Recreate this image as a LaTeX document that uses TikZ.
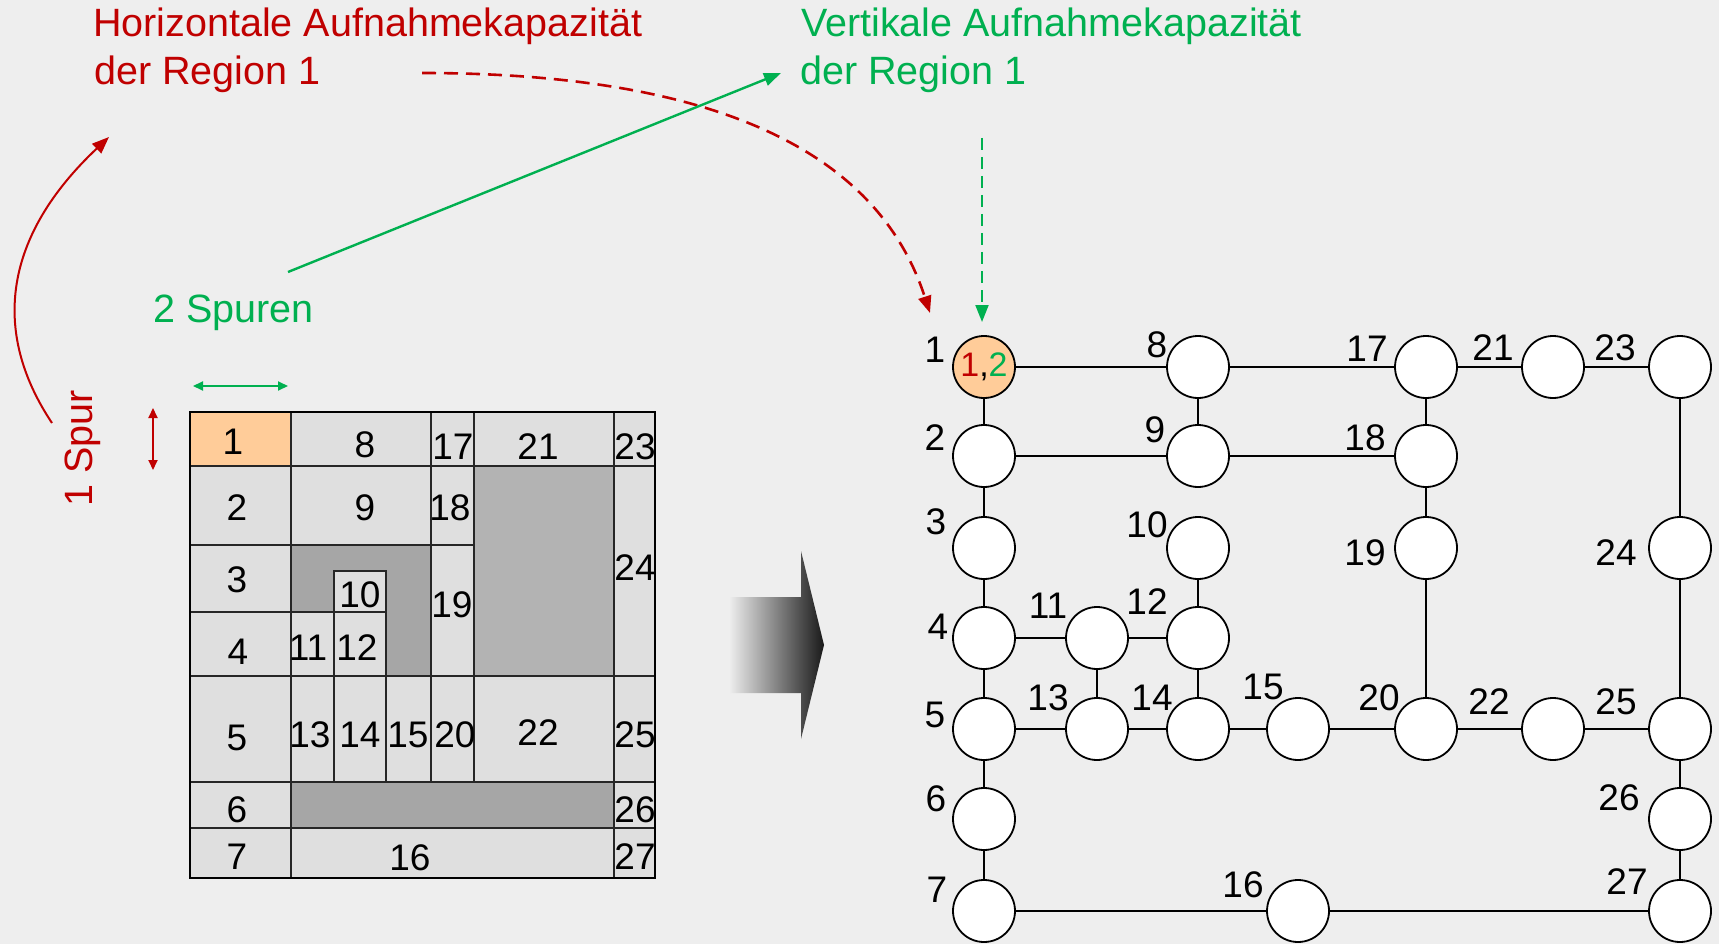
\documentclass[tikz,border=0pt]{standalone}
\usepackage{fontspec}
\setmainfont{Liberation Sans}
\usetikzlibrary{arrows.meta}
\definecolor{bg}{HTML}{EEEEEE}
\definecolor{cellgray}{HTML}{DFDFDF}
\definecolor{darkA}{HTML}{A6A6A6}
\definecolor{darkB}{HTML}{B3B3B3}
\definecolor{orangecell}{HTML}{FFCC99}
\definecolor{myred}{HTML}{C00000}
\definecolor{mygreen}{HTML}{00B050}
\begin{document}
\begin{tikzpicture}[x=1pt,y=-1pt,
  num/.style={inner sep=0pt, font=\fontsize{37}{44}\selectfont},
  ttl/.style={inner sep=0pt, anchor=base west, font=\fontsize{39.5}{48}\selectfont},
  cell/.style={draw=black!85, line width=1.2pt, fill=cellgray},
  gnode/.style={circle, draw, line width=1.8pt, fill=white, minimum size=62pt, inner sep=0pt, font=\fontsize{34}{40}\selectfont},
  edge/.style={line width=1.8pt},
  bigtip/.style={-{Triangle[length=17pt,width=13pt]}},
  smalltip/.style={{Triangle[length=10pt,width=9pt]}-{Triangle[length=10pt,width=9pt]}},
]
\useasboundingbox (0,0) rectangle (1719,944);
\fill[bg] (0,0) rectangle (1719,944);

% ---------------- grid ----------------
\def\cA{190}\def\cB{291}\def\cC{334}\def\cD{386}\def\cE{431}\def\cF{474}\def\cG{614}\def\cH{655}
\def\rA{412}\def\rB{466}\def\rC{545}\def\rD{612}\def\rE{676}\def\rF{782}\def\rG{828}\def\rH{878}
\draw[cell, fill=orangecell] (\cA,\rA) rectangle (\cB,\rB);
\draw[cell] (\cB,\rA) rectangle (\cE,\rB);
\draw[cell] (\cE,\rA) rectangle (\cF,\rB);
\draw[cell] (\cF,\rA) rectangle (\cG,\rB);
\draw[cell] (\cG,\rA) rectangle (\cH,\rB);
\draw[cell] (\cA,\rB) rectangle (\cB,\rC);
\draw[cell] (\cB,\rB) rectangle (\cE,\rC);
\draw[cell] (\cE,\rB) rectangle (\cF,\rC);
\draw[cell, fill=darkB] (\cF,\rB) rectangle (\cG,\rE);
\draw[cell] (\cG,\rB) rectangle (\cH,\rE);
\draw[cell] (\cA,\rC) rectangle (\cB,\rD);
\draw[cell] (\cA,\rD) rectangle (\cB,\rE);
\draw[cell, fill=darkA] (\cB,\rC) rectangle (\cE,\rE);
\draw[cell] (\cC,571) rectangle (\cD,\rD);
\draw[cell] (\cB,\rD) rectangle (\cC,\rE);
\draw[cell] (\cC,\rD) rectangle (\cD,\rE);
\draw[cell] (\cE,\rC) rectangle (\cF,\rE);
\draw[cell] (\cA,\rE) rectangle (\cB,\rF);
\draw[cell] (\cB,\rE) rectangle (\cC,\rF);
\draw[cell] (\cC,\rE) rectangle (\cD,\rF);
\draw[cell] (\cD,\rE) rectangle (\cE,\rF);
\draw[cell] (\cE,\rE) rectangle (\cF,\rF);
\draw[cell] (\cF,\rE) rectangle (\cG,\rF);
\draw[cell] (\cG,\rE) rectangle (\cH,\rF);
\draw[cell] (\cA,\rF) rectangle (\cB,\rG);
\draw[cell, fill=darkA] (\cB,\rF) rectangle (\cG,\rG);
\draw[cell] (\cG,\rF) rectangle (\cH,\rG);
\draw[cell] (\cA,\rG) rectangle (\cB,\rH);
\draw[cell] (\cB,\rG) rectangle (\cG,\rH);
\draw[cell] (\cG,\rG) rectangle (\cH,\rH);
\draw[line width=2.2pt] (\cA,\rA) rectangle (\cH,\rH);

\node[num] (g1) at (233,442) {1};
\node[num] (g8) at (365,445) {8};
\node[num] (g17) at (453,447) {17};
\node[num] (g21) at (538,447) {21};
\node[num] (g23) at (635,447) {23};
\node[num] (g2) at (237,508) {2};
\node[num] (g9) at (365,508) {9};
\node[num] (g18) at (450,508) {18};
\node[num] (g24) at (635,568) {24};
\node[num] (g3) at (237,580) {3};
\node[num] (g10) at (360,595) {10};
\node[num] (g19) at (452,605) {19};
\node[num] (g4) at (238,652) {4};
\node[num] (g11) at (308,648) {11};
\node[num] (g12) at (357,648) {12};
\node[num] (g5) at (237,738) {5};
\node[num] (g13) at (310,735) {13};
\node[num] (g14) at (360,735) {14};
\node[num] (g15) at (408,735) {15};
\node[num] (g20) at (455,735) {20};
\node[num] (g22) at (538,733) {22};
\node[num] (g25) at (635,735) {25};
\node[num] (g6) at (237,810) {6};
\node[num] (g26) at (635,810) {26};
\node[num] (g7) at (237,857) {7};
\node[num] (g16) at (410,858) {16};
\node[num] (g27) at (635,857) {27};

% ---------------- big arrow ----------------
\shade[left color=bg, right color=black!90]
  (729,597) -- (801,597) -- (801,551) -- (824,645) -- (801,739) -- (801,693) -- (729,693) -- cycle;

% ---------------- graph ----------------
\node[gnode, fill=orangecell] (n1) at (984,367) {\textcolor{myred}{1},\textcolor{mygreen}{2}};
\node[gnode] (n2) at (984,456) {};
\node[gnode] (n3) at (984,548) {};
\node[gnode] (n4) at (984,638) {};
\node[gnode] (n5) at (984,729) {};
\node[gnode] (n6) at (984,819) {};
\node[gnode] (n7) at (984,911) {};
\node[gnode] (n8) at (1198,367) {};
\node[gnode] (n9) at (1198,456) {};
\node[gnode] (n10) at (1198,548) {};
\node[gnode] (n11) at (1097,638) {};
\node[gnode] (n12) at (1198,638) {};
\node[gnode] (n13) at (1097,729) {};
\node[gnode] (n14) at (1198,729) {};
\node[gnode] (n15) at (1298,729) {};
\node[gnode] (n16) at (1298,911) {};
\node[gnode] (n17) at (1426,367) {};
\node[gnode] (n18) at (1426,456) {};
\node[gnode] (n19) at (1426,548) {};
\node[gnode] (n20) at (1426,729) {};
\node[gnode] (n21) at (1553,367) {};
\node[gnode] (n22) at (1553,729) {};
\node[gnode] (n23) at (1680,367) {};
\node[gnode] (n24) at (1680,548) {};
\node[gnode] (n25) at (1680,729) {};
\node[gnode] (n26) at (1680,819) {};
\node[gnode] (n27) at (1680,911) {};

\draw[edge] (n1) -- (n2);
\draw[edge] (n2) -- (n3);
\draw[edge] (n3) -- (n4);
\draw[edge] (n4) -- (n5);
\draw[edge] (n5) -- (n6);
\draw[edge] (n6) -- (n7);
\draw[edge] (n1) -- (n8);
\draw[edge] (n8) -- (n17);
\draw[edge] (n17) -- (n21);
\draw[edge] (n21) -- (n23);
\draw[edge] (n8) -- (n9);
\draw[edge] (n2) -- (n9);
\draw[edge] (n9) -- (n18);
\draw[edge] (n17) -- (n18);
\draw[edge] (n18) -- (n19);
\draw[edge] (n19) -- (n20);
\draw[edge] (n23) -- (n24);
\draw[edge] (n24) -- (n25);
\draw[edge] (n10) -- (n12);
\draw[edge] (n4) -- (n11);
\draw[edge] (n11) -- (n12);
\draw[edge] (n11) -- (n13);
\draw[edge] (n12) -- (n14);
\draw[edge] (n5) -- (n13);
\draw[edge] (n13) -- (n14);
\draw[edge] (n14) -- (n15);
\draw[edge] (n15) -- (n20);
\draw[edge] (n20) -- (n22);
\draw[edge] (n22) -- (n25);
\draw[edge] (n25) -- (n26);
\draw[edge] (n26) -- (n27);
\draw[edge] (n7) -- (n16);
\draw[edge] (n16) -- (n27);

\node[num] (l1) at (935,350) {1};
\node[num] (l2) at (935,438) {2};
\node[num] (l3) at (936,522) {3};
\node[num] (l4) at (938,627) {4};
\node[num] (l5) at (935,715) {5};
\node[num] (l6) at (936,799) {6};
\node[num] (l7) at (937,890) {7};
\node[num] (l8) at (1157,345) {8};
\node[num] (l9) at (1155,430) {9};
\node[num] (l10) at (1147,525) {10};
\node[num] (l11) at (1048,606) {11};
\node[num] (l12) at (1147,602) {12};
\node[num] (l13) at (1048,698) {13};
\node[num] (l14) at (1152,698) {14};
\node[num] (l15) at (1263,687) {15};
\node[num] (l16) at (1243,885) {16};
\node[num] (l17) at (1367,349) {17};
\node[num] (l18) at (1365,438) {18};
\node[num] (l19) at (1365,553) {19};
\node[num] (l20) at (1379,698) {20};
\node[num] (l21) at (1493,348) {21};
\node[num] (l22) at (1489,702) {22};
\node[num] (l23) at (1615,348) {23};
\node[num] (l24) at (1616,553) {24};
\node[num] (l25) at (1616,702) {25};
\node[num] (l26) at (1619,798) {26};
\node[num] (l27) at (1627,882) {27};

% ---------------- texts ----------------
\node[ttl, text=myred] (th1) at (93,37) {Horizontale Aufnahmekapazität};
\node[ttl, text=myred] (th2) at (94,85) {der Region 1};
\node[ttl, text=mygreen] (tv1) at (801,37) {Vertikale Aufnahmekapazität};
\node[ttl, text=mygreen] (tv2) at (800,85) {der Region 1};
\node[ttl, text=mygreen] (tsp) at (153,322) {2 Spuren};
\node[ttl, text=myred, rotate=90] (t1s) at (92,507) {1 Spur};

% ---------------- arrows ----------------
\coordinate (rdS) at (422,73);
\coordinate (rdE) at (930,313);
\draw[myred, line width=2.6pt, dash pattern=on 14pt off 8pt, bigtip]
  (rdS) .. controls (780,73) and (890,190) .. (rdE);

\coordinate (gdS) at (982,138);
\coordinate (gdE) at (982,322);
\draw[mygreen, line width=2pt, dash pattern=on 12pt off 7pt, bigtip] (gdS) -- (gdE);

\coordinate (gsS) at (288,272);
\coordinate (gsE) at (781,73);
\draw[mygreen, line width=2.4pt, bigtip] (gsS) -- (gsE);

\coordinate (rsS) at (52,423);
\coordinate (rsE) at (109,137);
\draw[myred, line width=2pt, bigtip] (rsS) .. controls (-10,330) and (5,235) .. (rsE);

\coordinate (hA) at (193,386);
\coordinate (hB) at (288,386);
\draw[mygreen, line width=2pt, smalltip] (hA) -- (hB);

\coordinate (vA) at (153,408);
\coordinate (vB) at (153,470);
\draw[myred, line width=2pt, smalltip] (vA) -- (vB);
\end{tikzpicture}
\end{document}
